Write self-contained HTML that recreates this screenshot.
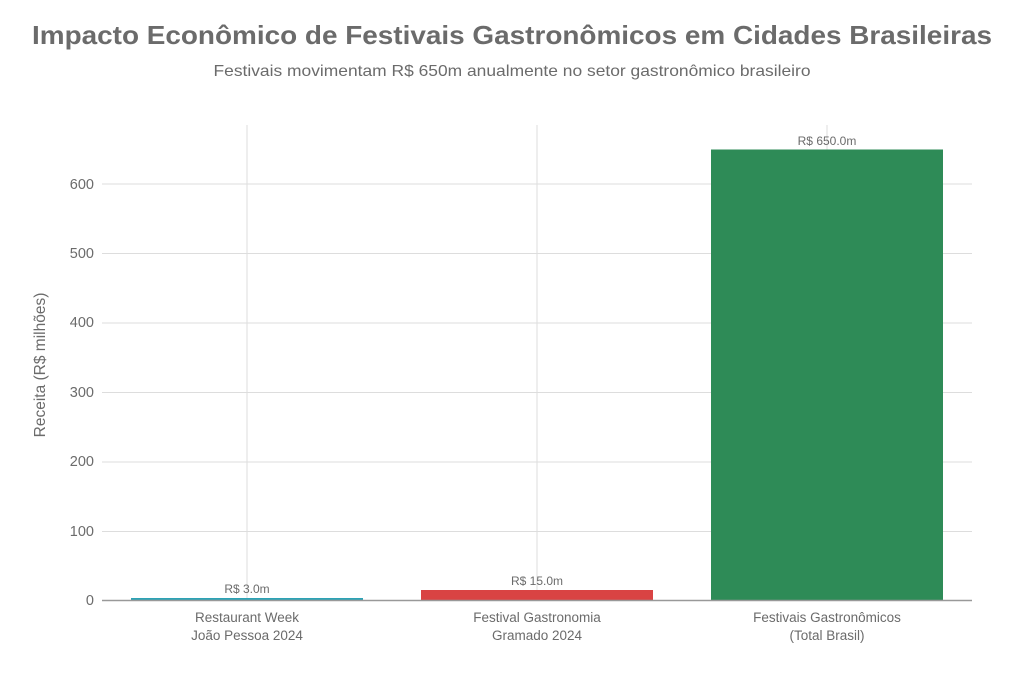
<!DOCTYPE html>
<html><head><meta charset="utf-8"><style>
body{margin:0;background:#fff;}
svg text{font-family:"Liberation Sans",sans-serif;}
</style></head><body>
<svg width="1024" height="683" viewBox="0 0 1024 683" xmlns="http://www.w3.org/2000/svg">
<text x="512" y="44" text-anchor="middle" font-size="26" font-weight="bold" fill="#6b6b6b" textLength="960" lengthAdjust="spacingAndGlyphs">Impacto Econômico de Festivais Gastronômicos em Cidades Brasileiras</text>
<text x="512" y="76" text-anchor="middle" font-size="16" fill="#6b6b6b" textLength="597" lengthAdjust="spacingAndGlyphs">Festivais movimentam R$ 650m anualmente no setor gastronômico brasileiro</text>
<g stroke="#dddddd" stroke-width="1">
<line x1="102" x2="972" y1="531.5" y2="531.5"/>
<line x1="102" x2="972" y1="462" y2="462"/>
<line x1="102" x2="972" y1="392.5" y2="392.5"/>
<line x1="102" x2="972" y1="323" y2="323"/>
<line x1="102" x2="972" y1="253.5" y2="253.5"/>
<line x1="102" x2="972" y1="184" y2="184"/>
<line x1="247" x2="247" y1="125" y2="600"/>
<line x1="537" x2="537" y1="125" y2="600"/>
<line x1="827" x2="827" y1="125" y2="600"/>
</g>
<g font-size="14.5" fill="#6b6b6b" text-anchor="end">
<text x="94" y="605">0</text>
<text x="94" y="536">100</text>
<text x="94" y="466">200</text>
<text x="94" y="397">300</text>
<text x="94" y="327">400</text>
<text x="94" y="258">500</text>
<text x="94" y="189">600</text>
</g>
<text transform="translate(45,365) rotate(-90)" text-anchor="middle" font-size="15.5" fill="#6b6b6b">Receita (R$ milhões)</text>
<rect x="131" y="598" width="232" height="2.5" fill="#2ca3b5"/>
<rect x="421" y="590" width="232" height="10.5" fill="#d94343"/>
<rect x="711" y="149.5" width="232" height="451" fill="#2e8b57"/>
<line x1="102" x2="972" y1="600.5" y2="600.5" stroke="#999" stroke-width="1.5"/>
<g font-size="12" fill="#6b6b6b" text-anchor="middle">
<text x="247" y="593">R$ 3.0m</text>
<text x="537" y="585">R$ 15.0m</text>
<text x="827" y="145">R$ 650.0m</text>
</g>
<g font-size="13.5" fill="#6b6b6b" text-anchor="middle">
<text x="247" y="622">Restaurant Week</text>
<text x="247" y="640">João Pessoa 2024</text>
<text x="537" y="622">Festival Gastronomia</text>
<text x="537" y="640">Gramado 2024</text>
<text x="827" y="622">Festivais Gastronômicos</text>
<text x="827" y="640">(Total Brasil)</text>
</g>
</svg>
</body></html>
